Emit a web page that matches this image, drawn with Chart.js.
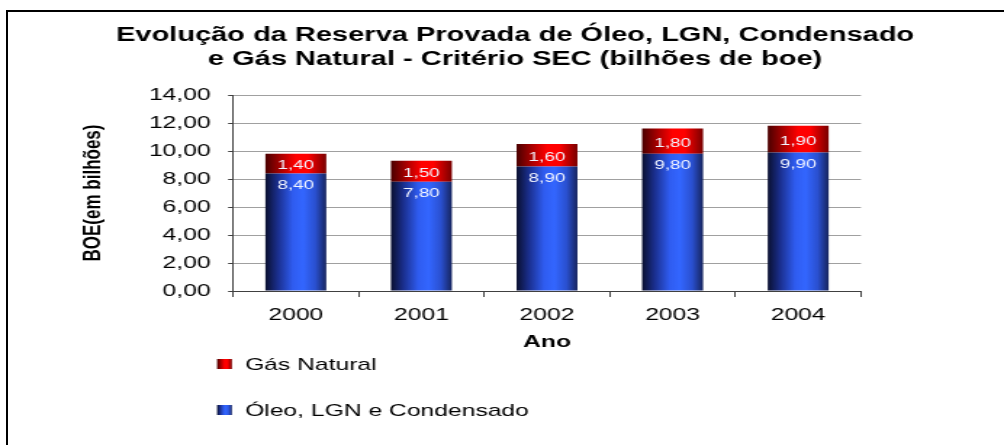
<!DOCTYPE html>
<html>
<head>
<meta charset="utf-8">
<script src="https://cdn.jsdelivr.net/npm/chart.js"></script>
<style>
html, body { margin: 0; padding: 0; background: #fff; overflow: hidden; }
#frame { position: absolute; left: 6px; top: 10px; width: 1100px; height: 500px;
         border-left: 2px solid #000; border-top: 2px solid #000; }
/* the original picture is stretched sideways, so the chart is drawn narrow and scaled */
#wrap { position: absolute; left: 0; top: 0; width: 692px; height: 445px;
        transform: scaleX(1.4509); transform-origin: 0 0; }
</style>
</head>
<body>
<div id="frame"></div>
<div id="wrap"><canvas id="myChart" width="692" height="445"></canvas></div>
<script>
const years = ['2000', '2001', '2002', '2003', '2004'];
const oleo = [8.4, 7.8, 8.9, 9.8, 9.9];
const gas = [1.4, 1.5, 1.6, 1.8, 1.9];
const yMin = 0, yMax = 14, yStep = 2;

const BAR_PCT = 0.485;
const blueStops = [[0, '#0a1030'], [0.2, '#1a2e8c'], [0.45, '#2f5cf0'], [0.62, '#3366ff'], [0.82, '#2a50d0'], [1, '#16245e']];
const redStops = [[0, '#4a0000'], [0.25, '#a80000'], [0.5, '#ff0000'], [0.7, '#ff0000'], [1, '#780000']];

const fmt = v => v.toFixed(2).replace('.', ',');

function barFill(stops) {
    return function (c) {
        const chart = c.chart;
        const xs = chart.scales.x;
        const solid = stops[3][1];
        if (!xs || !chart.chartArea || c.dataIndex === undefined) return solid;
        const cw = xs.width / years.length;
        const cx = xs.getPixelForValue(c.dataIndex);
        const half = cw * BAR_PCT / 2;
        if (!isFinite(cx) || !isFinite(half) || half <= 0) return solid;
        const g = chart.ctx.createLinearGradient(cx - half, 0, cx + half, 0);
        stops.forEach(s => g.addColorStop(s[0], s[1]));
        return g;
    };
}

// value labels inside the bars
const valueLabels = {
    id: 'valueLabels',
    afterDatasetsDraw(chart) {
        const ctx = chart.ctx;
        ctx.save();
        ctx.font = '13px "Liberation Sans", Arial, sans-serif';
        ctx.fillStyle = '#f2f5ff';
        ctx.textAlign = 'center';
        ctx.textBaseline = 'middle';
        chart.data.datasets.forEach((ds, di) => {
            chart.getDatasetMeta(di).data.forEach((bar, i) => {
                const y = di === 0 ? bar.y + 12 : (bar.y + bar.base) / 2 + 2;
                ctx.fillText(fmt(ds.data[i]), bar.x, y);
            });
        });
        ctx.restore();
    }
};

// vertical legend under the axis title
const stackLegend = {
    id: 'stackLegend',
    afterDraw(chart) {
        const ctx = chart.ctx;
        const items = [
            {label: chart.data.datasets[1].label, stops: redStops},
            {label: chart.data.datasets[0].label, stops: blueStops}
        ];
        ctx.save();
        ctx.font = '17px "Liberation Sans", Arial, sans-serif';
        ctx.textBaseline = 'middle';
        items.forEach((it, k) => {
            const cy = 364 + k * 46;
            const g = ctx.createLinearGradient(149.6, 0, 159.8, 0);
            it.stops.forEach(s => g.addColorStop(s[0], s[1]));
            ctx.fillStyle = g;
            ctx.fillRect(149.6, cy - 5, 10.2, 10);
            ctx.fillStyle = '#000';
            ctx.fillText(it.label, 168.9, cy + 1);
        });
        ctx.restore();
    }
};

Chart.defaults.font.family = '"Liberation Sans", Arial, sans-serif';
Chart.defaults.color = '#000';

const ctx = document.getElementById('myChart').getContext('2d');
const myChart = new Chart(ctx, {
    type: 'bar',
    data: {
        labels: years,
        datasets: [{
            label: 'Óleo, LGN e Condensado',
            data: oleo,
            backgroundColor: barFill(blueStops),
            barPercentage: BAR_PCT,
            categoryPercentage: 1
        }, {
            label: 'Gás Natural',
            data: gas,
            backgroundColor: barFill(redStops),
            barPercentage: BAR_PCT,
            categoryPercentage: 1
        }]
    },
    options: {
        responsive: false,
        animation: false,
        layout: {
            padding: {left: 18, right: 0, top: 0, bottom: 92}
        },
        scales: {
            x: {
                stacked: true,
                grid: {
                    offset: true,
                    drawOnChartArea: false,
                    drawTicks: true,
                    tickLength: 6,
                    tickColor: '#404040'
                },
                border: {color: '#404040', width: 1},
                ticks: {
                    padding: 8,
                    font: {size: 17}
                },
                title: {
                    display: true,
                    text: 'Ano',
                    font: {size: 17, weight: 'bold'},
                    padding: {top: 0, bottom: 0}
                },
                afterFit(s) { s.height = 62; }
            },
            y: {
                stacked: true,
                min: yMin,
                max: yMax,
                grid: {
                    color: '#a0a0a0',
                    tickColor: '#404040',
                    tickLength: 3.4
                },
                border: {color: '#404040', width: 1},
                ticks: {
                    stepSize: yStep,
                    padding: 12,
                    font: {size: 17},
                    callback: v => fmt(v)
                },
                title: {
                    display: true,
                    text: 'BOE(em bilhões)',
                    font: {size: 17, weight: 'bold'},
                    padding: {top: 36.6, bottom: 0}
                },
                afterFit(s) { s.width = 142.6; }
            },
            y2: {
                position: 'right',
                display: true,
                grid: {display: false},
                border: {display: false},
                ticks: {display: false},
                afterFit(s) { s.width = 98.6; }
            }
        },
        plugins: {
            legend: {display: false},
            tooltip: {enabled: false},
            title: {
                display: true,
                text: ['Evolução da Reserva Provada de Óleo, LGN, Condensado',
                       'e Gás Natural - Critério SEC (bilhões de boe)'],
                font: {size: 20, weight: 'bold'},
                color: '#000',
                padding: {top: 23, bottom: 24}
            }
        }
    },
    plugins: [valueLabels, stackLegend]
});
</script>
</body>
</html>
